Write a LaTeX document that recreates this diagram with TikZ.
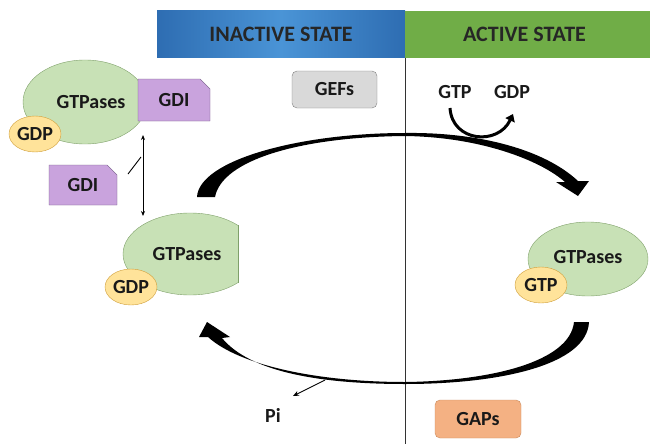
\documentclass[tikz,border=0pt]{standalone}
\usepackage{fontspec}
\setmainfont{Carlito}
\usetikzlibrary{shapes.geometric,shapes.misc,arrows.meta}

\definecolor{hdrblue}{HTML}{2E6DB2}
\definecolor{hdrblueL}{HTML}{4A94D6}
\definecolor{hdrgreen}{HTML}{70AD47}
\definecolor{gtpfill}{HTML}{C8E1B6}
\definecolor{gtpline}{HTML}{7FA06A}
\definecolor{nucfill}{HTML}{FFE39A}
\definecolor{nucline}{HTML}{CF9E3A}
\definecolor{gdifill}{HTML}{C9A3DD}
\definecolor{gdiline}{HTML}{6E5680}
\definecolor{geffill}{HTML}{D9D9D9}
\definecolor{gapfill}{HTML}{F4B183}
\definecolor{gapline}{HTML}{C98A5C}

\begin{document}
\begin{tikzpicture}[x=1pt,y=-1pt,
    lbl/.style={font=\bfseries\fontsize{20}{23}\selectfont, text=black!90},
    statebox/.style={rectangle, minimum height=47pt, inner sep=0pt, font=\bfseries\fontsize{22}{25}\selectfont, text=black!85},
    gtpnode/.style={ellipse, lbl, draw=gtpline, fill=gtpfill, inner sep=0pt},
    nucnode/.style={ellipse, lbl, draw=nucline, fill=nucfill, minimum width=52pt, minimum height=36pt, inner sep=0pt},
    gdinode/.style={chamfered rectangle, chamfered rectangle corners=north east, chamfered rectangle xsep=7pt, lbl, draw=gdiline, fill=gdifill, inner sep=0pt},
    regnode/.style={rectangle, rounded corners=5pt, lbl, inner sep=0pt, minimum width=85pt, minimum height=37pt},
    thin/.style={line width=0.9pt, black}
    ]
    \useasboundingbox (0,0) rectangle (650,444);

    % header
    \node [statebox, minimum width=248pt, left color=hdrblue, right color=hdrblue, middle color=hdrblueL] (inactive) at (281,34.5) {INACTIVE STATE};
    \node [statebox, minimum width=245pt, fill=hdrgreen] (active) at (527.5,34.5) {\hspace*{-6pt}ACTIVE STATE};
    \draw [black!80, line width=0.5pt] (405,58) -- (405,444);

    % GDI bound GTPase
    \node [gtpnode, minimum width=124pt, minimum height=84pt, text depth=-5pt] (gtpA) at (85,102) {\hspace*{12pt}GTPases};
    \node [nucnode] (gdpA) at (35,134) {GDP};
    \node [gdinode, minimum width=72pt, minimum height=42pt] (gdiA) at (174,100) {GDI};
    \node [gdinode, minimum width=68pt, minimum height=40pt] (gdiB) at (83,185) {GDI};

    \coordinate (swapT) at (143,135);
    \coordinate (swapB) at (143,216);
    \coordinate (relA) at (128,174);
    \coordinate (relB) at (141,157);
    \draw [thin, {Stealth[length=5pt,width=4pt]}-{Stealth[length=5pt,width=4pt]}] (swapT) -- (swapB);
    \draw [thin] (relA) -- (relB);

    % inactive GTPase
    \begin{scope}
      \clip (0,0) rectangle (238,444);
      \node [gtpnode, minimum width=134pt, minimum height=82pt] (gtpB) at (190,254) {\hspace*{-6pt}GTPases};
    \end{scope}
    \draw [gtpline, line width=0.4pt] (238,225.4) -- (238,282.6);
    \node [nucnode] (gdpB) at (131,287) {GDP};

    % active GTPase
    \node [gtpnode, minimum width=120pt, minimum height=74pt] (gtpC) at (588,259) {\raisebox{5pt}{GTPases}};
    \node [nucnode] (gtpD) at (541,285) {GTP};

    % regulators
    \node [regnode, draw=black!50, fill=geffill] (gefs) at (334.5,89.5) {GEFs};
    \node [regnode, draw=gapline, fill=gapfill, minimum width=86pt, minimum height=38pt] (gaps) at (478,419) {GAPs};

    % nucleotide exchange
    \node [lbl] (gtpIn) at (455,92) {GTP};
    \node [lbl] (gdpOut) at (512,92) {GDP};
    \coordinate (xchA) at (450,108);
    \coordinate (xchB) at (513,114);
    \draw [line width=3pt, -{Triangle[length=7pt,width=10pt]}] (xchA) .. controls (452,142) and (498,146) .. (xchB);

    % activation arc
    \fill (197,197) .. controls (199,160) and (300,133) .. (405,133)
      .. controls (480,132) and (545,150) .. (578,181)
      -- (589,181) -- (578,196) -- (556,182) -- (565,182)
      .. controls (540,160) and (480,137) .. (405,136)
      .. controls (300,137) and (222,160) .. (215,197) -- cycle;

    % hydrolysis arc
    \fill (589,322) .. controls (587,365) and (500,384) .. (405,384)
      .. controls (320,384) and (250,372) .. (222,338)
      -- (230,337) -- (207,322) -- (199,337) -- (208,337)
      .. controls (240,366) and (320,382) .. (405,382)
      .. controls (490,381) and (570,362) .. (574,322) -- cycle;

    \node [lbl] (pi) at (273,415) {Pi};
    \coordinate (piA) at (325,380);
    \coordinate (piB) at (293,396);
    \draw [thin, -{Stealth[length=6pt,width=5pt]}] (piA) -- (piB);

\end{tikzpicture}
\end{document}
